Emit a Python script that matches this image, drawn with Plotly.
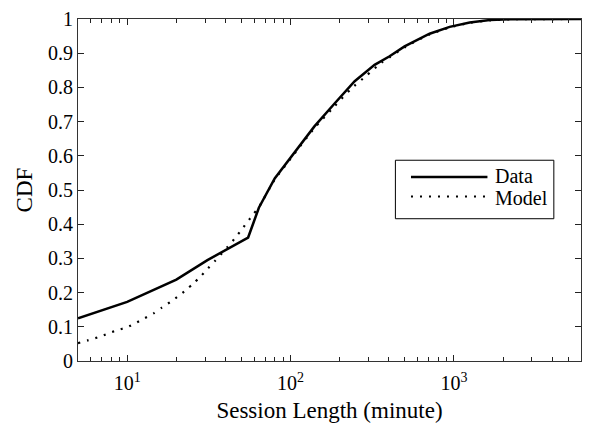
import plotly.graph_objects as go

data_x = [5, 10, 20, 31, 55, 64, 80, 106, 140, 186, 247, 327, 404, 499, 710, 942, 1250, 1660, 2200, 6000]
data_y = [0.125, 0.173, 0.238, 0.295, 0.361, 0.448, 0.534, 0.61, 0.686, 0.753, 0.818, 0.866,
          0.891, 0.92, 0.957, 0.977, 0.99, 0.997, 0.999, 1.0]

model_x = [5, 5.8, 6.7, 7.6, 8.7, 10, 11.4, 12.8, 14.6, 16.3, 18.4, 20.6, 23.1, 25.6, 28.4,
           31.1, 34.2, 41.4, 45.5, 49.4, 54, 58.7, 64, 80, 106, 140, 186, 235, 291, 359, 404,
           499, 710, 942, 1250, 1660, 2200, 6000]
model_y = [0.052, 0.061, 0.07, 0.08, 0.09, 0.099, 0.112, 0.125, 0.14, 0.156, 0.173, 0.19,
           0.209, 0.228, 0.249, 0.27, 0.291, 0.335, 0.358, 0.38, 0.404, 0.427, 0.45, 0.53,
           0.607, 0.681, 0.745, 0.796, 0.834, 0.872, 0.888, 0.917, 0.955, 0.975, 0.989,
           0.996, 0.999, 1.0]

series_names = ["Data", "Model"]

x_tickvals = [10, 100, 1000]
x_ticktext = ["10<sup>1</sup>", "10<sup>2</sup>", "10<sup>3</sup>"]
x_minor = [6, 7, 8, 9, 20, 30, 40, 50, 60, 70, 80, 90, 200, 300, 400, 500, 600, 700, 800, 900,
           2000, 3000, 4000, 5000, 6000]
y_tickvals = [0, 0.1, 0.2, 0.3, 0.4, 0.5, 0.6, 0.7, 0.8, 0.9, 1]
y_ticktext = ["0", "0.1", "0.2", "0.3", "0.4", "0.5", "0.6", "0.7", "0.8", "0.9", "1"]

FONT = "Liberation Serif"
AXC = "#222"
X_RANGE = [0.699, 3.778]

fig = go.Figure()
fig.add_trace(go.Scatter(x=data_x, y=data_y, mode="lines", name=series_names[0],
                         line=dict(color="black", width=2.5), showlegend=False))
fig.add_trace(go.Scatter(x=model_x, y=model_y, mode="lines", name=series_names[1],
                         line=dict(color="black", width=2.2, dash="2px,7px", shape="spline",
                                   smoothing=0.6), showlegend=False))

# legend drawn as a boxed key (paper coordinates)
fig.add_shape(type="rect", xref="paper", yref="paper", x0=0.631, x1=0.946, y0=0.416, y1=0.587,
              line=dict(color="black", width=1), fillcolor="white", layer="above")
fig.add_shape(type="line", xref="paper", yref="paper", x0=0.662, x1=0.814, y0=0.538, y1=0.538,
              line=dict(color="black", width=2.5), layer="above")
fig.add_shape(type="line", xref="paper", yref="paper", x0=0.662, x1=0.814, y0=0.481, y1=0.481,
              line=dict(color="black", width=2.2, dash="2px,7px"), layer="above")
fig.add_annotation(xref="paper", yref="paper", x=0.828, y=0.541, text=series_names[0],
                   showarrow=False, xanchor="left", yanchor="middle", height=18, borderpad=0,
                   font=dict(family=FONT, size=20, color="black"))
fig.add_annotation(xref="paper", yref="paper", x=0.828, y=0.478, text=series_names[1],
                   showarrow=False, xanchor="left", yanchor="middle", height=18, borderpad=0,
                   font=dict(family=FONT, size=20, color="black"))

fig.update_layout(
    width=590, height=435,
    margin=dict(l=78, r=8, t=10, b=74),
    paper_bgcolor="white", plot_bgcolor="white",
    font=dict(family=FONT, size=20, color="black"),
    showlegend=False,
    xaxis=dict(type="log", range=X_RANGE,
               tickmode="array", tickvals=x_tickvals, ticktext=x_ticktext,
               ticks="inside", ticklen=6, tickcolor=AXC, tickwidth=1.2,
               minor=dict(tickmode="array", tickvals=x_minor, ticks="inside", ticklen=4,
                          tickcolor=AXC, tickwidth=1.1, showgrid=False),
               showline=True, linecolor="#333", linewidth=1.2, mirror="allticks",
               showgrid=False, zeroline=False, ticklabelstandoff=4,
               title=dict(text="Session Length (minute)", font=dict(family=FONT, size=23), standoff=8),
               tickfont=dict(family=FONT, size=20)),
    yaxis=dict(range=[0, 1], tickmode="array", tickvals=y_tickvals, ticktext=y_ticktext,
               ticks="inside", ticklen=6, tickcolor=AXC, tickwidth=1.2,
               showline=True, linecolor="#333", linewidth=1.2, mirror="allticks",
               showgrid=False, zeroline=False, ticklabeloverflow="allow",
               title=dict(text="CDF", font=dict(family=FONT, size=23), standoff=8),
               tickfont=dict(family=FONT, size=20)),
)

fig.write_html("out.html")
